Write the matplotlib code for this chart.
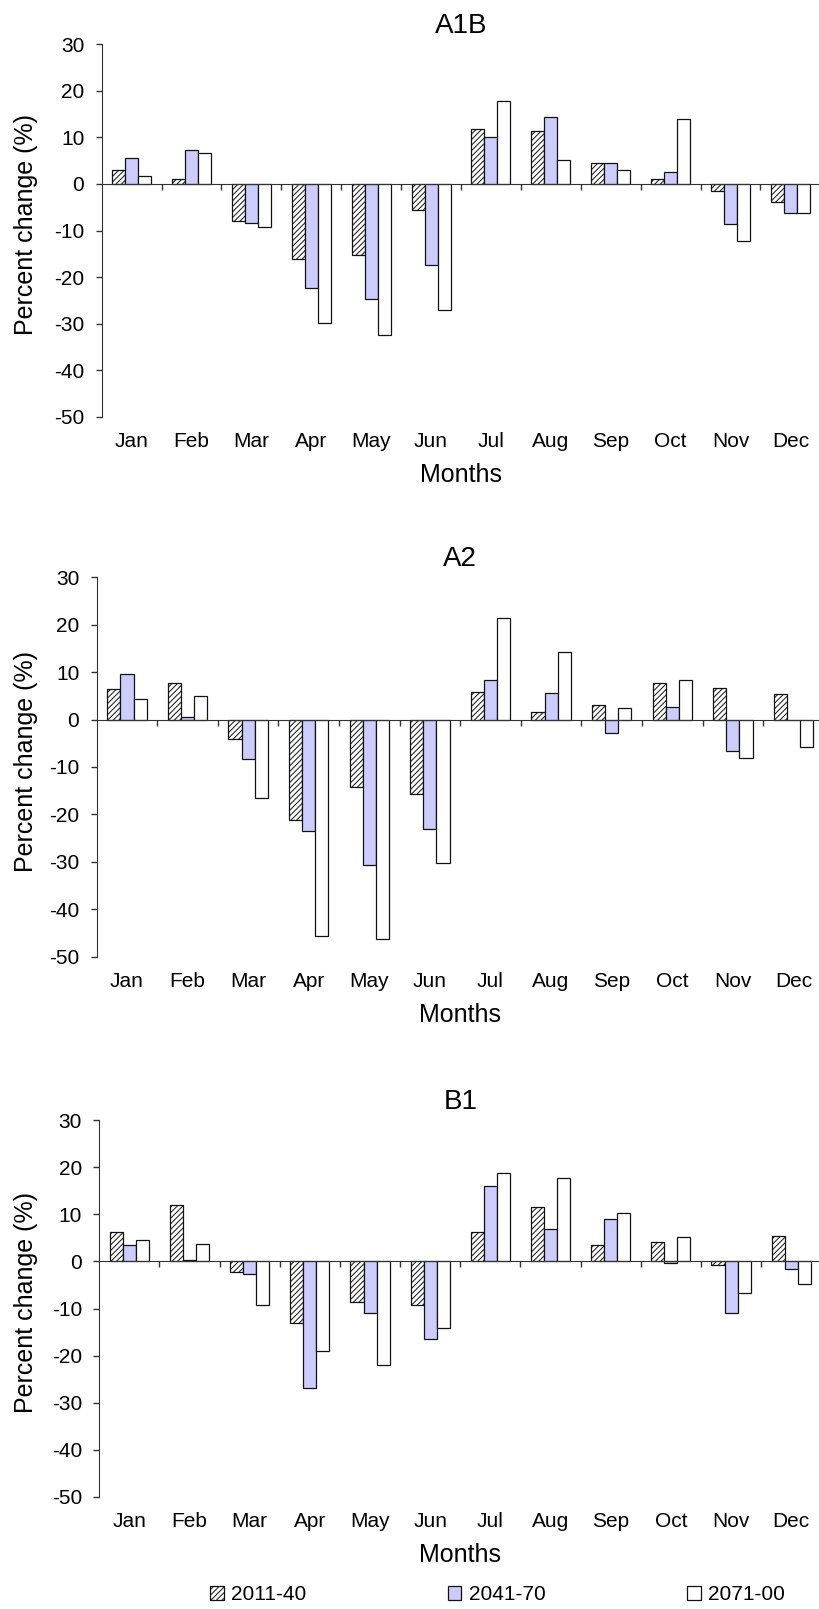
import matplotlib
matplotlib.use("Agg")
import matplotlib.pyplot as plt
from matplotlib.patches import Patch
import numpy as np

plt.rcParams['font.family'] = ['Liberation Sans', 'DejaVu Sans']
plt.rcParams['hatch.linewidth'] = 0.7
plt.rcParams['axes.unicode_minus'] = False

months = ["Jan", "Feb", "Mar", "Apr", "May", "Jun", "Jul", "Aug", "Sep", "Oct", "Nov", "Dec"]
periods = ["2011-40", "2041-70", "2071-00"]
scenarios = ["A1B", "A2", "B1"]

a1b_2011 = [2.9, 1.1, -7.9, -16.2, -15.2, -5.6, 11.9, 11.4, 4.6, 1.1, -1.5, -3.9]
a1b_2041 = [5.5, 7.2, -8.4, -22.3, -24.7, -17.4, 10.1, 14.4, 4.4, 2.6, -8.7, -6.3]
a1b_2071 = [1.8, 6.6, -9.3, -29.9, -32.4, -27.1, 17.9, 5.2, 2.9, 13.9, -12.2, -6.3]

a2_2011 = [6.4, 7.8, -4.1, -21.1, -14.2, -15.7, 5.8, 1.7, 3.0, 7.8, 6.7, 5.3]
a2_2041 = [9.6, 0.6, -8.4, -23.4, -30.6, -23.1, 8.4, 5.6, -2.9, 2.7, -6.6, 0.0]
a2_2071 = [4.4, 4.9, -16.5, -45.6, -46.2, -30.3, 21.4, 14.2, 2.4, 8.4, -8.1, -5.8]

b1_2011 = [6.3, 12.1, -2.3, -13.1, -8.6, -9.3, 6.3, 11.5, 3.5, 4.1, -0.8, 5.5]
b1_2041 = [3.4, 0.3, -2.6, -26.8, -10.9, -16.5, 16.1, 7.0, 9.0, -0.3, -10.9, -1.5]
b1_2071 = [4.5, 3.8, -9.3, -19.0, -22.0, -14.1, 18.7, 17.8, 10.4, 5.3, -6.6, -4.8]

y_ticks = [-50, -40, -30, -20, -10, 0, 10, 20, 30]

panel_data = [
    (a1b_2011, a1b_2041, a1b_2071),
    (a2_2011, a2_2041, a2_2071),
    (b1_2011, b1_2041, b1_2071),
]

W, H = 820, 1609
fig = plt.figure(figsize=(W / 100, H / 100), dpi=100)

# axes rects in pixels: (left, top, right, bottom)
rects_px = [
    (101.7, 44.3, 820.3, 416.7),
    (96.7, 577.3, 823.7, 956.7),
    (99.3, 1120.3, 821.3, 1496.7),
]

face = ['white', '#CCCCFF', 'white']
hatches = ['//////', None, None]
edge = '#111111'
axis_col = '#333333'
w = 0.217
x = np.arange(12) + 0.5

for (l, t, r, b), title, series in zip(rects_px, scenarios, panel_data):
    ax = fig.add_axes([l / W, 1 - b / H, (r - l) / W, (b - t) / H])
    for k, vals in enumerate(series):
        ax.bar(x + (k - 1) * w, vals, width=w, color=face[k], edgecolor=edge,
               hatch=hatches[k], linewidth=0.9, zorder=2)
    ax.set_xlim(0, 12)
    ax.set_ylim(-50, 30)
    ax.set_yticks(y_ticks)
    ax.tick_params(axis='y', direction='out', length=4.5, width=1, color=axis_col,
                   labelsize=15, pad=8)
    ax.set_xticks(np.arange(1, 13))
    ax.tick_params(axis='x', direction='out', length=4.5, width=1, color=axis_col,
                   labelbottom=False)
    for s in ['top', 'right']:
        ax.spines[s].set_visible(False)
    ax.spines['bottom'].set_position(('data', 0))
    ax.spines['bottom'].set_color(axis_col)
    ax.spines['left'].set_color(axis_col)
    ax.spines['bottom'].set_zorder(3)
    for xi, m in zip(x, months):
        ax.annotate(m, xy=(xi, 0), xycoords=('data', 'axes fraction'),
                    xytext=(0, -25), textcoords='offset pixels',
                    ha='center', va='center', fontsize=15)
    ax.annotate('Months', xy=(0.5, 0), xycoords='axes fraction',
                xytext=(0, -58), textcoords='offset pixels',
                ha='center', va='center', fontsize=18)
    ax.set_title(title, fontsize=20, pad=8)
    ax.set_ylabel('Percent change (%)', fontsize=18)
    ax.yaxis.set_label_coords((38 - l) / (r - l), 0.515)

handles = [Patch(facecolor=face[k], edgecolor=edge, hatch=hatches[k], linewidth=0.9)
           for k in range(3)]
fig.legend(handles, periods, loc='center', bbox_to_anchor=(497.5 / W, 1 - 1595 / H),
           ncol=3, frameon=False, fontsize=15, handlelength=0.65, handleheight=0.65,
           handletextpad=0.35, columnspacing=6.8, borderpad=0)

fig.savefig('out.png', dpi=100)
